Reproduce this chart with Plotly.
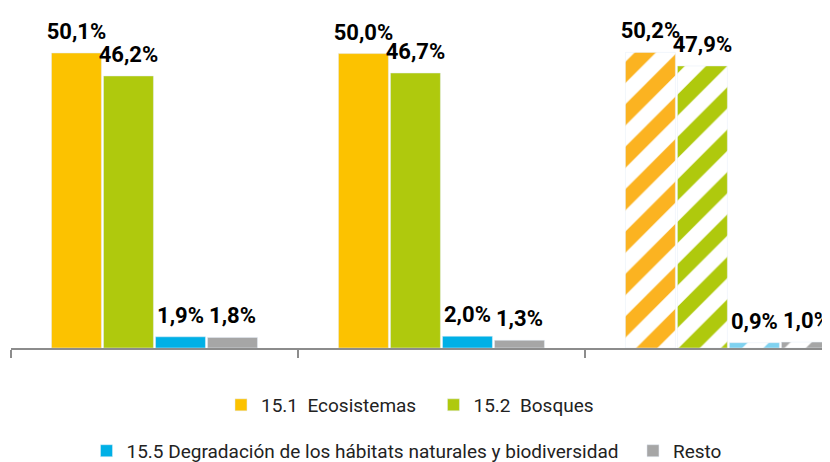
import plotly.graph_objects as go

# three groups, the last one is hatched (provisional data)
groups = ["A", "B", "C"]
ecosistemas = [50.1, 50.0, 50.2]
bosques = [46.2, 46.7, 47.9]
degradacion = [1.9, 2.0, 0.9]
resto = [1.8, 1.3, 1.0]

series = [
    ("15.1  Ecosistemas", ecosistemas, "#FCC200", "#FBB321"),
    ("15.2  Bosques", bosques, "#AFC90D", "#AFC90D"),
    ("15.5 Degradación de los hábitats naturales y biodiversidad", degradacion, "#00B0E6", "#7FD2F0"),
    ("Resto", resto, "#A6A6A6", "#A6A6A6"),
]
# one legend per entry so each can sit where it is in the original
legend_ids = ["legend", "legend2", "legend3", "legend4"]
legend_pos = [(0.2591, 0.1256), (0.5176, 0.1256), (0.0955, 0.0245), (0.7603, 0.0245)]

fig = go.Figure()
for (name, vals, col, hatch_col), leg in zip(series, legend_ids):
    fig.add_trace(go.Bar(
        x=groups, y=vals, name=name, legend=leg,
        marker=dict(
            color=[col, col, hatch_col],
            pattern=dict(shape=["", "", "/"], size=30, solidity=0.5,
                         fillmode="replace",
                         fgcolor=[col, col, hatch_col],
                         bgcolor=[col, col, "white"]),
        ),
        cliponaxis=False,
    ))

# value labels, a bit above the bars (grouped like the bars)
for name, vals, col, hatch_col in series:
    fig.add_trace(go.Scatter(
        x=groups, y=vals, mode="markers+text", showlegend=False, hoverinfo="skip",
        marker=dict(size=12, color="rgba(0,0,0,0)"),
        text=[f"{v:.1f}%".replace(".", ",") for v in vals],
        textposition="top center",
        textfont=dict(family="Roboto", size=22, color="#000000", weight="bold"),
        cliponaxis=False,
    ))

legends = {}
for leg, (lx, ly) in zip(legend_ids, legend_pos):
    legends[leg] = dict(orientation="h", xref="container", yref="container",
                        x=lx, xanchor="left", y=ly, yanchor="middle",
                        font=dict(size=19, color="#222222"))

fig.update_layout(
    width=822, height=454,
    margin=dict(l=3, r=0, t=0, b=114, autoexpand=False),
    barmode="group", bargap=0.275, bargroupgap=0.04,
    scattermode="group", scattergap=0.275,
    plot_bgcolor="white", paper_bgcolor="white",
    font=dict(family="Roboto", size=19, color="#222222"),
    xaxis=dict(
        range=[-0.5, 2.354], showticklabels=False, showgrid=False,
        showline=True, linecolor="#8c8c8c", linewidth=2,
        ticks="outside", tickson="boundaries", ticklen=8, tickcolor="#8c8c8c", tickwidth=2,
    ),
    yaxis=dict(range=[0, 57.74], visible=False, showgrid=False),
    showlegend=True,
    **legends,
)

fig.write_html("out.html")
